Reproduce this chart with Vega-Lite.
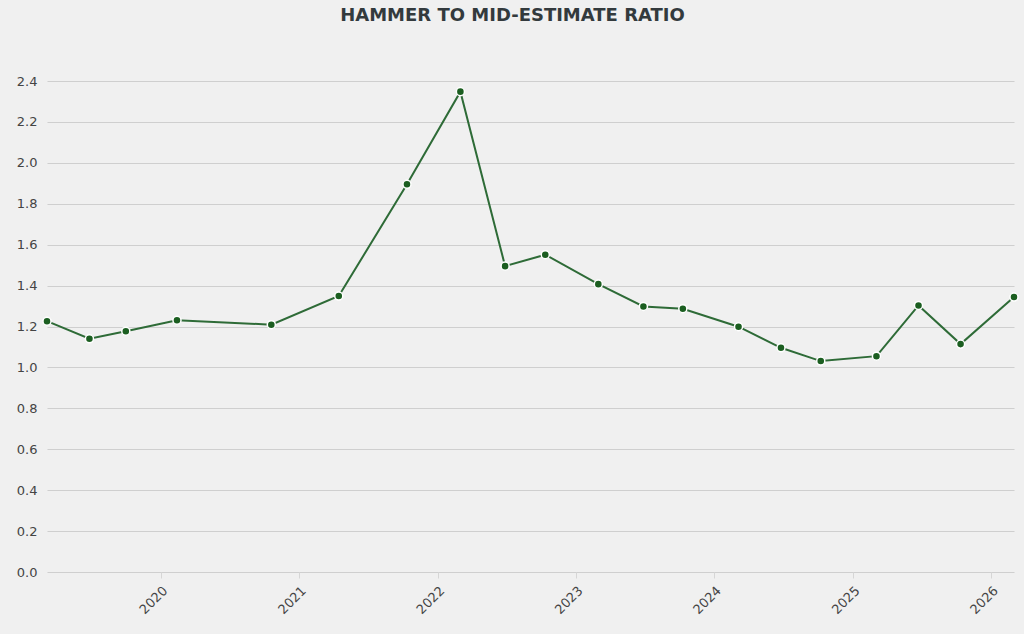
{
  "$schema": "https://vega.github.io/schema/vega-lite/v6.json",
  "autosize": "none",
  "width": 967,
  "height": 491,
  "padding": {"left": 47, "top": 81, "right": 10, "bottom": 62},
  "background": "#f0f0f0",
  "config": {
    "view": {"stroke": null},
    "font": "DejaVu Sans"
  },
  "title": {
    "text": "HAMMER TO MID-ESTIMATE RATIO",
    "font": "DejaVu Sans",
    "fontSize": 18,
    "fontWeight": "bold",
    "color": "#333a3d",
    "anchor": "middle",
    "dx": -18,
    "offset": 50
  },
  "data": {
    "values": [
      {"date": "2019-03-07", "ratio": 1.226},
      {"date": "2019-06-27", "ratio": 1.140},
      {"date": "2019-10-01", "ratio": 1.177},
      {"date": "2020-02-13", "ratio": 1.231},
      {"date": "2020-10-19", "ratio": 1.209},
      {"date": "2021-04-15", "ratio": 1.349},
      {"date": "2021-10-12", "ratio": 1.895},
      {"date": "2022-03-02", "ratio": 2.348},
      {"date": "2022-06-28", "ratio": 1.495},
      {"date": "2022-10-12", "ratio": 1.551},
      {"date": "2023-03-01", "ratio": 1.407},
      {"date": "2023-06-28", "ratio": 1.298},
      {"date": "2023-10-10", "ratio": 1.287},
      {"date": "2024-03-05", "ratio": 1.199},
      {"date": "2024-06-25", "ratio": 1.096},
      {"date": "2024-10-08", "ratio": 1.031},
      {"date": "2025-03-04", "ratio": 1.055},
      {"date": "2025-06-23", "ratio": 1.303},
      {"date": "2025-10-12", "ratio": 1.114},
      {"date": "2026-03-02", "ratio": 1.344}
    ]
  },
  "encoding": {
    "x": {
      "field": "date",
      "type": "temporal",
      "title": null,
      "scale": {"nice": false},
      "axis": {
        "format": "%Y",
        "tickCount": "year",
        "labelAngle": -45,
        "labelFontSize": 13,
        "labelColor": "#444444",
        "labelPadding": 6,
        "tickColor": "#d6d6d6",
        "tickSize": 6,
        "domain": false,
        "grid": false
      }
    },
    "y": {
      "field": "ratio",
      "type": "quantitative",
      "title": null,
      "scale": {"domain": [0, 2.4]},
      "axis": {
        "values": [0, 0.2, 0.4, 0.6, 0.8, 1.0, 1.2, 1.4, 1.6, 1.8, 2.0, 2.2, 2.4],
        "format": ".1f",
        "labelFontSize": 13,
        "labelColor": "#444444",
        "labelPadding": 10,
        "domain": false,
        "ticks": false,
        "gridColor": "#cfcfcf",
        "gridWidth": 1
      }
    }
  },
  "layer": [
    {
      "mark": {"type": "line", "color": "#2e6b37", "strokeWidth": 2}
    },
    {
      "mark": {
        "type": "point",
        "filled": true,
        "fill": "#1b5e20",
        "stroke": "#ffffff",
        "strokeWidth": 1.5,
        "size": 65,
        "opacity": 1
      }
    }
  ]
}
